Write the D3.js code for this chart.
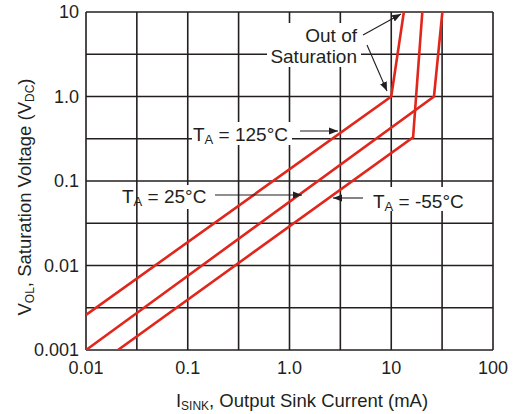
<!DOCTYPE html>
<html>
<head>
<meta charset="utf-8">
<script src="https://cdn.jsdelivr.net/npm/d3@7"></script>
<style>
  body { margin: 0; background: #fff; }
  text { font-family: "Liberation Sans", Arial, sans-serif; fill: #231f20; }
</style>
</head>
<body>
<div id="chart"></div>
<script>
// tick values and labels
var xTicks = [0.01, 0.1, 1, 10, 100];
var xTickLabels = ["0.01", "0.1", "1.0", "10", "100"];
var yTicks = [0.001, 0.01, 0.1, 1, 10];
var yTickLabels = ["0.001", "0.01", "0.1", "1.0", "10"];
// grid at every half decade
var xGrid = [0.01, 0.0316, 0.1, 0.316, 1, 3.16, 10, 31.6, 100];
var yGrid = [0.001, 0.00316, 0.01, 0.0316, 0.1, 0.316, 1, 3.16, 10];

// curves: sink current (mA) vs saturation voltage (V)
var current125 = [0.01, 10, 13.3];
var voltage125 = [0.0026, 1.0, 10];
var current25 = [0.01, 26.3, 31.8];
var voltage25 = [0.001, 1.0, 10];
var currentM55 = [0.0206, 16.4, 20.2];
var voltageM55 = [0.001, 0.33, 10];

var margin = { top: 12, right: 27, bottom: 64, left: 86 },
    width = 520 - margin.left - margin.right,
    height = 414 - margin.top - margin.bottom;

var ink = "#231f20";
var red = "#e1261c";

var svg = d3.select("#chart")
    .append("svg")
    .attr("width", 520)
    .attr("height", 414);

var g = svg.append("g")
    .attr("transform", "translate(" + margin.left + "," + margin.top + ")");

var x = d3.scaleLog().domain([0.01, 100]).range([0, width]);
var y = d3.scaleLog().domain([0.001, 10]).range([height, 0]);

// grid
g.selectAll(".vgrid").data(xGrid).enter().append("line")
    .attr("x1", d => x(d)).attr("x2", d => x(d))
    .attr("y1", 0).attr("y2", height)
    .attr("stroke", ink).attr("stroke-width", 1.6);
g.selectAll(".hgrid").data(yGrid).enter().append("line")
    .attr("x1", 0).attr("x2", width)
    .attr("y1", d => y(d)).attr("y2", d => y(d))
    .attr("stroke", ink).attr("stroke-width", 1.6);

// tick labels
g.selectAll(".xlab").data(xTicks).enter().append("text")
    .attr("x", d => x(d))
    .attr("y", height + 24)
    .attr("text-anchor", "middle")
    .attr("font-size", "18px")
    .text((d, i) => xTickLabels[i]);
g.selectAll(".ylab").data(yTicks).enter().append("text")
    .attr("x", -7)
    .attr("y", d => y(d) + 6)
    .attr("text-anchor", "end")
    .attr("font-size", "18px")
    .text((d, i) => yTickLabels[i]);

// white boxes behind labels
var boxes = [[181, 11, 94, 44], [106, 110, 100, 23], [54, 173, 72, 24], [284, 175, 98, 24]];
boxes.forEach(function (b) {
    g.append("rect")
        .attr("x", b[0]).attr("y", b[1])
        .attr("width", b[2]).attr("height", b[3])
        .attr("fill", "#fff");
});

// curves
g.append("clipPath").attr("id", "clip")
    .append("rect").attr("width", width).attr("height", height);

var line = d3.line().x(d => x(d[0])).y(d => y(d[1]));
[[current125, voltage125], [current25, voltage25], [currentM55, voltageM55]].forEach(function (s) {
    g.append("path")
        .datum(d3.zip(s[0], s[1]))
        .attr("d", line)
        .attr("fill", "none")
        .attr("stroke", red)
        .attr("stroke-width", 2.6)
        .attr("clip-path", "url(#clip)");
});

// arrows
svg.append("defs").append("marker")
    .attr("id", "head")
    .attr("viewBox", "0 0 10 10")
    .attr("refX", 10).attr("refY", 5)
    .attr("markerWidth", 9).attr("markerHeight", 9)
    .attr("markerUnits", "userSpaceOnUse")
    .attr("orient", "auto")
    .append("path")
    .attr("d", "M0,1 L10,5 L0,9 Z")
    .attr("fill", ink);

var arrows = [[363, 35, 401, 14], [367, 45, 387, 91], [300, 131, 338, 131], [215, 195, 302, 195], [363, 198, 333, 198]];
arrows.forEach(function (a) {
    svg.append("line")
        .attr("x1", a[0]).attr("y1", a[1])
        .attr("x2", a[2]).attr("y2", a[3])
        .attr("stroke", ink)
        .attr("stroke-width", 1.1)
        .attr("marker-end", "url(#head)");
});

// annotation text
svg.append("text").attr("x", 357).attr("y", 42).attr("text-anchor", "end")
    .attr("font-size", "19px").text("Out of");
svg.append("text").attr("x", 357).attr("y", 63).attr("text-anchor", "end")
    .attr("font-size", "19px").text("Saturation");

function tempLabel(px, py, temp) {
    var t = svg.append("text").attr("x", px).attr("y", py).attr("font-size", "19px");
    t.append("tspan").text("T");
    t.append("tspan").attr("font-size", "13px").attr("dy", 3).text("A");
    t.append("tspan").attr("dy", -3).text(" = " + temp + "\u00b0C");
}
tempLabel(193, 141, "125");
tempLabel(122, 203, "25");
tempLabel(373, 208, "-55");

// axis titles
var xt = svg.append("text")
    .attr("x", 302).attr("y", 407)
    .attr("text-anchor", "middle")
    .attr("font-size", "18.5px");
xt.append("tspan").text("I");
xt.append("tspan").attr("font-size", "12px").attr("dy", 3).text("SINK");
xt.append("tspan").attr("dy", -3).text(", Output Sink Current (mA)");

var yt = svg.append("text")
    .attr("transform", "translate(31,197) rotate(-90)")
    .attr("text-anchor", "middle")
    .attr("font-size", "18.5px");
yt.append("tspan").text("V");
yt.append("tspan").attr("font-size", "12px").attr("dy", 3).text("OL");
yt.append("tspan").attr("dy", -3).text(", Saturation Voltage (V");
yt.append("tspan").attr("font-size", "12px").attr("dy", 3).text("DC");
yt.append("tspan").attr("dy", -3).text(")");
</script>
</body>
</html>
